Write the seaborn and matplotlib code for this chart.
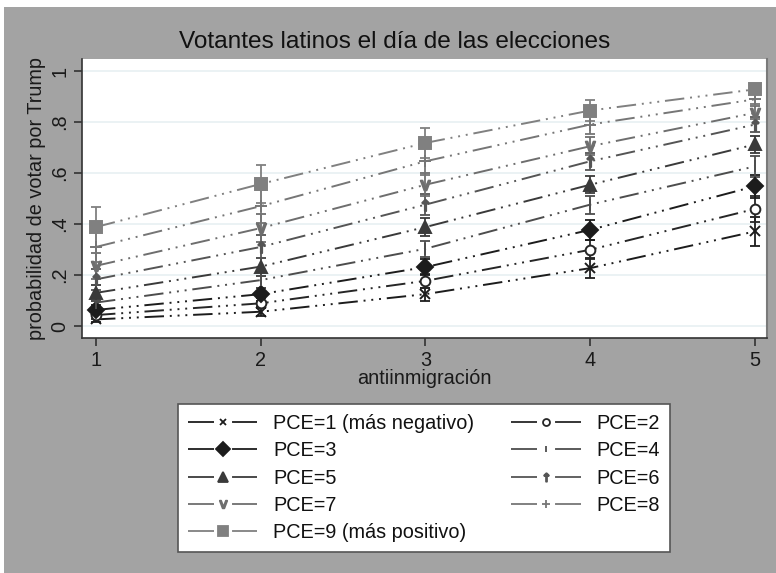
import numpy as np
import pandas as pd
import matplotlib
matplotlib.use("Agg")
import matplotlib.pyplot as plt
from matplotlib.lines import Line2D
from matplotlib.patches import Rectangle
import seaborn as sns

# --- Data ---
antiinmigracion = [1, 2, 3, 4, 5]

pce1 = [0.026, 0.056, 0.125, 0.227, 0.371]
pce2 = [0.043, 0.089, 0.177, 0.299, 0.459]
pce3 = [0.063, 0.125, 0.231, 0.377, 0.548]
pce4 = [0.092, 0.180, 0.303, 0.476, 0.626]
pce5 = [0.130, 0.233, 0.388, 0.554, 0.712]
pce6 = [0.183, 0.310, 0.476, 0.646, 0.790]
pce7 = [0.236, 0.384, 0.554, 0.705, 0.836]
pce8 = [0.310, 0.470, 0.646, 0.790, 0.889]
pce9 = [0.388, 0.557, 0.718, 0.845, 0.928]

# half width of the confidence intervals
ci1 = [0.012, 0.018, 0.025, 0.040, 0.056]
ci2 = [0.015, 0.020, 0.028, 0.038, 0.050]
ci3 = [0.020, 0.025, 0.030, 0.040, 0.045]
ci4 = [0.025, 0.030, 0.032, 0.035, 0.040]
ci5 = [0.030, 0.035, 0.035, 0.033, 0.035]
ci6 = [0.040, 0.045, 0.040, 0.033, 0.030]
ci7 = [0.050, 0.055, 0.045, 0.035, 0.025]
ci8 = [0.060, 0.065, 0.052, 0.038, 0.020]
ci9 = [0.078, 0.075, 0.060, 0.040, 0.018]

pce_labels = ["PCE=1 (más negativo)", "PCE=2", "PCE=3", "PCE=4", "PCE=5",
              "PCE=6", "PCE=7", "PCE=8", "PCE=9 (más positivo)"]
y_ticks = [0, 0.2, 0.4, 0.6, 0.8, 1.0]
y_tick_labels = ["0", ".2", ".4", ".6", ".8", "1"]

series = [pce1, pce2, pce3, pce4, pce5, pce6, pce7, pce8, pce9]
cis = [ci1, ci2, ci3, ci4, ci5, ci6, ci7, ci8, ci9]

# --- Styles ---
colors = ['#1c1c1c', '#262626', '#1c1c1c', '#4d4d4d', '#3a3a3a',
          '#555555', '#6e6e6e', '#767676', '#808080']
markers = ['x', 'o', 'D', '|', '^', r'$\uparrow$', r'$\mathrm{v}$', '+', 's']
msizes = [7, 7, 8, 8, 8, 8, 7, 8, 9]
leg_msizes = [5, 5, 7, 5, 6.5, 6, 5.5, 6, 7]
filled = [True, False, True, True, True, True, True, True, True]
dash_pattern = (0, (10, 3, 1, 3, 1, 3, 1, 3))

FS = 14.3

sns.set_theme(style="ticks")
plt.rcParams['font.family'] = ['Liberation Sans', 'DejaVu Sans']
plt.rcParams['text.color'] = '#111111'

fig = plt.figure(figsize=(7.76, 5.73), dpi=100)
fig.patch.set_facecolor('white')
fig.patches.append(Rectangle((4 / 776, 0), 1, 1 - 7 / 573, transform=fig.transFigure,
                             facecolor='#a3a3a3', edgecolor='none', zorder=-10))

ax = fig.add_axes([82 / 776, 1 - 338 / 573, (767 - 82) / 776, (338 - 59) / 573])
ax.set_facecolor('white')

for i, (vals, ci) in enumerate(zip(series, cis)):
    c = colors[i]
    ax.errorbar(antiinmigracion, vals, yerr=ci, fmt='none', ecolor=c,
                elinewidth=1.3, capsize=3.8, capthick=1.3, zorder=2)
    sns.lineplot(x=antiinmigracion, y=vals, ax=ax, color=c, linestyle=dash_pattern,
                 linewidth=1.4, marker=markers[i], markersize=msizes[i],
                 markerfacecolor=c if filled[i] else 'white',
                 markeredgecolor=c, markeredgewidth=1.4, errorbar=None, zorder=3)

ax.set_xlim(0.915, 5.073)
ax.set_ylim(-0.047, 1.047)
ax.set_xticks(antiinmigracion)
ax.set_yticks(y_ticks)
ax.set_yticklabels(y_tick_labels, rotation=90, va='center')
ax.tick_params(axis='both', direction='out', length=6, width=1.2, color='#333333',
               labelsize=FS, labelcolor='#1a1a1a', pad=3)
ax.grid(axis='y', color='#e8f0f2', linewidth=1.2)
ax.set_axisbelow(True)
for side in ['left', 'bottom']:
    ax.spines[side].set_color('#333333')
    ax.spines[side].set_linewidth(1.2)
ax.spines['top'].set_visible(False)
ax.spines['right'].set_color('#7a7a7a')
ax.spines['right'].set_linewidth(1.5)

ax.set_xlabel('antiinmigración', fontsize=FS, color='#1a1a1a', labelpad=0)
ax.set_ylabel('probabilidad de votar por Trump', fontsize=FS, color='#1a1a1a', labelpad=3)

fig.text(395 / 776, 1 - 42 / 573, 'Votantes latinos el día de las elecciones',
         ha='center', va='center', fontsize=17.6, color='#111111')

# --- Legend: row-wise order like the original ---
handles = []
for i in range(9):
    handles.append(Line2D([], [], color=colors[i], linewidth=1.3,
                          linestyle=(0, (14.4, 10, 20, 0)),
                          marker=markers[i], markersize=leg_msizes[i],
                          markerfacecolor=colors[i] if filled[i] else 'white',
                          markeredgecolor=colors[i], markeredgewidth=1.3))
order = [0, 2, 4, 6, 8, 1, 3, 5, 7]
leg = fig.legend([handles[k] for k in order], [pce_labels[k] for k in order],
                 ncol=2, loc='upper left', bbox_to_anchor=(178 / 776, 1 - 404 / 573),
                 borderaxespad=0, fontsize=FS, handlelength=3.5, handletextpad=0.8,
                 columnspacing=1.85, labelspacing=0.42, borderpad=0.5,
                 frameon=True, fancybox=False, edgecolor='#555555', framealpha=1)
leg.get_frame().set_linewidth(1.2)

fig.savefig('out.png', dpi=100, facecolor=fig.get_facecolor())
